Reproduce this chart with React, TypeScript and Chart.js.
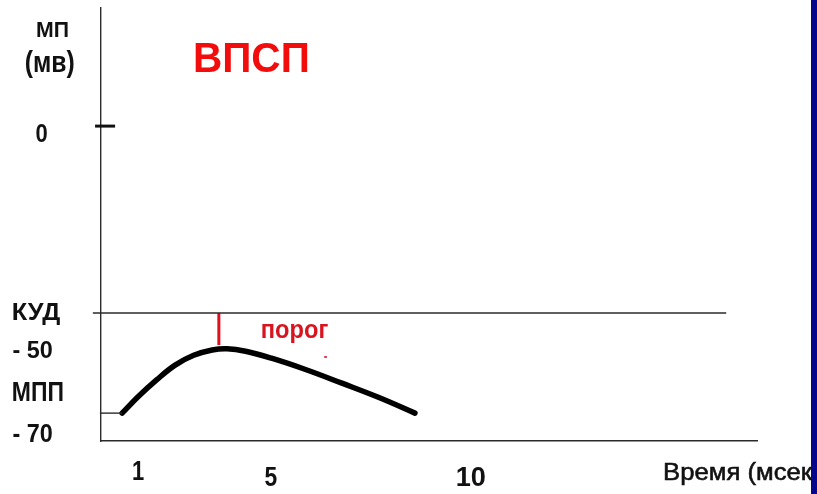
import React, { useEffect, useRef } from "react";
import { Chart, registerables } from "chart.js";

Chart.register(...registerables);

// ---- data ----
// EPSP curve: time (ms) vs membrane potential (mV)
const epspTime = [0.57, 1.0, 1.5, 2.0, 2.5, 3.0, 3.4, 3.9, 4.6, 5.5, 6.5, 7.5, 8.47];
const epspMv = [-70.0, -66.0, -61.9, -58.3, -55.9, -54.6, -54.3, -54.9, -56.6, -59.3, -62.7, -66.2, -70.0];

// threshold (КУД) level line
const thresholdTime = [-0.22, 16.87];
const thresholdMv = [-45.6, -45.6];

// resting potential (МПП) stub before the curve
const restTime = [-0.03, 0.57];
const restMv = [-70, -70];

// red "порог" gap marker between peak and threshold
const gapTime = [3.18, 3.18];
const gapMv = [-45.6, -53.4];

// zero-mark on the potential axis
const zeroTime = [-0.16, 0.38];
const zeroMv = [0, 0];

// axis ranges
const timeRange = [0, 17.7];
const mvRange = [-76.8, 28.8];

// texts
const titleText = "ВПСП";
const yAxisTitle = ["МП", "(мв)"];
const yTickLabels = ["0", "КУД", "- 50", "МПП", "- 70"];
const xTickLabels = ["1", "5", "10"];
const xAxisTitle = "Время (мсек)";
const thresholdText = "порог";

const toPts = (xs: number[], ys: number[]) => xs.map((x, i) => ({ x, y: ys[i] }));

type Box = { x: number; y: number; w: number; h: number };

// ink boxes of the texts (layout)
const LAYOUT = {
  title: { x: 195, y: 42, w: 113, h: 30 },
  yTitle: [
    { x: 37, y: 21, w: 31, h: 16 },
    { x: 26, y: 50, w: 48, h: 28 },
  ],
  yTicks: [
    { x: 36, y: 124, w: 11, h: 18 },
    { x: 13, y: 304, w: 47, h: 21 },
    { x: 13, y: 341, w: 39, h: 17 },
    { x: 13, y: 382, w: 50, h: 19 },
    { x: 13, y: 424, w: 39, h: 18 },
  ],
  xTicks: [
    { x: 133, y: 461, w: 11, h: 19 },
    { x: 265, y: 467, w: 12, h: 19 },
    { x: 457, y: 467, w: 28, h: 19 },
  ],
  xTitle: { x: 665, y: 461, w: 135, h: 23.5 },
  threshold: { x: 262, y: 323, w: 66, h: 20 },
};

const FONT = '"Liberation Sans", Arial, sans-serif';

function drawFit(
  ctx: CanvasRenderingContext2D,
  text: string,
  box: Box,
  color: string,
  weight: string,
  ref?: string,
  stroke = 0
) {
  ctx.save();
  ctx.font = `${weight} 40px ${FONT}`;
  const m = ctx.measureText(ref ?? text);
  const inkW = m.actualBoundingBoxLeft + m.actualBoundingBoxRight;
  const inkH = m.actualBoundingBoxAscent + m.actualBoundingBoxDescent;
  const sx = box.w / inkW;
  const sy = box.h / inkH;
  ctx.translate(box.x + m.actualBoundingBoxLeft * sx, box.y + m.actualBoundingBoxAscent * sy);
  ctx.scale(sx, sy);
  ctx.fillStyle = color;
  ctx.textAlign = "left";
  ctx.textBaseline = "alphabetic";
  ctx.fillText(text, 0, 0);
  if (stroke > 0) {
    ctx.strokeStyle = color;
    ctx.lineWidth = stroke / sx;
    ctx.strokeText(text, 0, 0);
  }
  ctx.restore();
}

const textPlugin = {
  id: "slideTexts",
  afterDraw(chart: any) {
    const ctx: CanvasRenderingContext2D = chart.ctx;
    drawFit(ctx, titleText, LAYOUT.title, "#f20c0c", "bold");
    yAxisTitle.forEach((t, i) => drawFit(ctx, t, LAYOUT.yTitle[i], "#111", "bold"));
    yTickLabels.forEach((t, i) => drawFit(ctx, t, LAYOUT.yTicks[i], "#111", "bold"));
    xTickLabels.forEach((t, i) => drawFit(ctx, t, LAYOUT.xTicks[i], "#111", "bold"));
    drawFit(ctx, xAxisTitle, LAYOUT.xTitle, "#111", "normal", "Время (мсе", 0.6);
    drawFit(ctx, thresholdText, LAYOUT.threshold, "#d8141f", "bold");
    // small red speck under the word
    drawFit(ctx, "-", { x: 324, y: 356, w: 3, h: 2 }, "#e04050", "bold");
  },
};

export default function App() {
  const ref = useRef<HTMLCanvasElement>(null);

  useEffect(() => {
    document.body.style.margin = "0";
    const canvas = ref.current!;
    const thin = { borderColor: "#2a2a2a", borderWidth: 1.4 };
    const chart = new Chart(canvas, {
      type: "line",
      data: {
        datasets: [
          {
            data: toPts(thresholdTime, thresholdMv),
            ...thin,
            pointRadius: 0,
            clip: false as any,
          },
          {
            data: toPts(restTime, restMv),
            ...thin,
            pointRadius: 0,
            clip: false as any,
          },
          {
            data: toPts(zeroTime, zeroMv),
            borderColor: "#111",
            borderWidth: 3,
            pointRadius: 0,
            clip: false as any,
          },
          {
            data: toPts(gapTime, gapMv),
            borderColor: "#e0101c",
            borderWidth: 3,
            pointRadius: 0,
            clip: false as any,
          },
          {
            data: toPts(epspTime, epspMv),
            borderColor: "#000",
            borderWidth: 5.5,
            tension: 0.4,
            borderCapStyle: "round",
            borderJoinStyle: "round",
            pointRadius: 0,
            clip: false as any,
          },
        ],
      },
      options: {
        animation: false,
        responsive: false,
        maintainAspectRatio: false,
        layout: { padding: { left: 101, right: 60, top: 8, bottom: 53 } },
        plugins: { legend: { display: false }, tooltip: { enabled: false }, title: { display: false } },
        scales: {
          x: {
            type: "linear",
            min: timeRange[0],
            max: timeRange[1],
            grid: { display: false, drawTicks: false },
            ticks: { display: false },
            border: { display: true, color: "#2a2a2a", width: 1.4 },
            afterFit: (s: any) => {
              s.height = 0;
            },
          },
          y: {
            type: "linear",
            min: mvRange[0],
            max: mvRange[1],
            grid: { display: false, drawTicks: false },
            ticks: { display: false },
            border: { display: true, color: "#2a2a2a", width: 1.4 },
            afterFit: (s: any) => {
              s.width = 0;
            },
          },
        },
      },
      plugins: [textPlugin],
    });
    return () => chart.destroy();
  }, []);

  return (
    <div style={{ position: "relative", width: 817, height: 494, background: "#fff", overflow: "hidden" }}>
      <canvas ref={ref} width={817} height={494} />
      <div
        style={{
          position: "absolute",
          left: 811,
          top: 0,
          width: 6,
          height: 494,
          background: "#06068c",
        }}
      />
    </div>
  );
}
